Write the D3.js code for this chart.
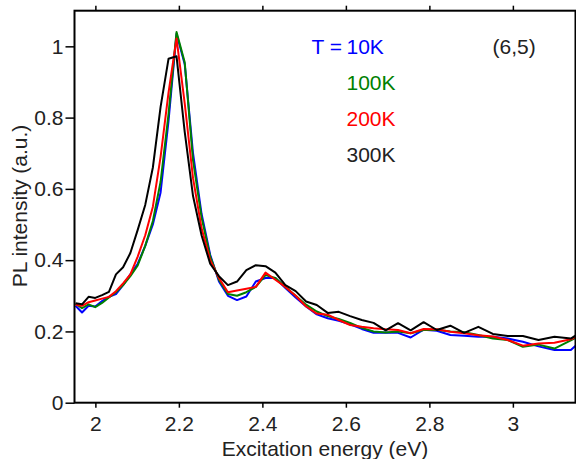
<!DOCTYPE html>
<html>
<head>
<meta charset="utf-8">
<script src="https://cdn.jsdelivr.net/npm/d3@7"></script>
<style>
  body { margin: 0; background: #fff; }
  svg { display: block; font-family: "Liberation Sans", Arial, Helvetica, sans-serif; }
</style>
</head>
<body>
<div id="chart"></div>
<script>
// excitation energies (eV) of the measured points
var energy = [1.9525, 1.9680, 1.9837, 1.9997, 2.0160, 2.0325, 2.0493, 2.0664, 2.0838, 2.1014,
  2.1194, 2.1377, 2.1562, 2.1752, 2.1944, 2.2140, 2.2339, 2.2543, 2.2750, 2.2960,
  2.3175, 2.3393, 2.3616, 2.3843, 2.4075, 2.4311, 2.4551, 2.4797, 2.5047, 2.5303,
  2.5564, 2.5830, 2.6102, 2.6380, 2.6663, 2.6953, 2.7249, 2.7552, 2.7862, 2.8178,
  2.8502, 2.8834, 2.9173, 2.9520, 2.9876, 3.0240, 3.0614, 3.0996, 3.1388, 3.1791]

// PL intensity for each temperature
var pl10K = [0.272, 0.253, 0.272, 0.270, 0.285, 0.297, 0.305, 0.330, 0.360, 0.390,
  0.440, 0.500, 0.590, 0.790, 1.035, 0.950, 0.700, 0.530, 0.415, 0.340,
  0.300, 0.288, 0.298, 0.340, 0.350, 0.350, 0.322, 0.295, 0.270, 0.248,
  0.237, 0.230, 0.220, 0.207, 0.196, 0.197, 0.196, 0.183, 0.205, 0.202,
  0.190, 0.188, 0.185, 0.185, 0.180, 0.171, 0.158, 0.148, 0.148, 0.190]

var pl100K = [0.278, 0.265, 0.276, 0.268, 0.280, 0.295, 0.310, 0.330, 0.355, 0.385,
  0.440, 0.510, 0.620, 0.810, 1.040, 0.955, 0.680, 0.520, 0.410, 0.345,
  0.305, 0.300, 0.310, 0.325, 0.358, 0.350, 0.325, 0.300, 0.275, 0.256,
  0.243, 0.235, 0.224, 0.210, 0.200, 0.197, 0.200, 0.195, 0.204, 0.205,
  0.200, 0.198, 0.190, 0.180, 0.176, 0.157, 0.163, 0.152, 0.175, 0.200]

var pl200K = [0.275, 0.272, 0.282, 0.287, 0.292, 0.297, 0.313, 0.335, 0.360, 0.410,
  0.470, 0.550, 0.690, 0.870, 1.022, 0.840, 0.630, 0.490, 0.400, 0.350,
  0.310, 0.315, 0.320, 0.325, 0.365, 0.345, 0.325, 0.300, 0.270, 0.250,
  0.247, 0.232, 0.218, 0.213, 0.209, 0.206, 0.204, 0.195, 0.207, 0.206,
  0.199, 0.195, 0.189, 0.186, 0.176, 0.160, 0.166, 0.168, 0.178, 0.200]

var pl300K = [0.279, 0.276, 0.297, 0.294, 0.302, 0.311, 0.360, 0.380, 0.420, 0.485,
  0.555, 0.660, 0.830, 0.965, 0.972, 0.760, 0.580, 0.470, 0.390, 0.355,
  0.330, 0.340, 0.372, 0.386, 0.383, 0.365, 0.330, 0.313, 0.284, 0.274,
  0.252, 0.255, 0.243, 0.232, 0.224, 0.203, 0.223, 0.203, 0.226, 0.204,
  0.216, 0.196, 0.213, 0.193, 0.187, 0.187, 0.176, 0.185, 0.180, 0.210]

var labels = ["10K", "100K", "200K", "300K"]
var colors = ["#0000ff", "#008000", "#ff0000", "#000000"]
var xTicks = [2, 2.2, 2.4, 2.6, 2.8, 3]
var yTicks = [0, 0.2, 0.4, 0.6, 0.8, 1]

var series = [pl10K, pl100K, pl200K, pl300K].map(function(vals, i) {
  return { label: labels[i], color: colors[i],
           points: vals.map(function(v, j) { return { e: energy[j], v: v } }) }
})

var W = 576, H = 459
var margin = {top: 10.7, right: 0.5, bottom: 56.3, left: 74.5},
    width = W - margin.left - margin.right,
    height = H - margin.top - margin.bottom

var svg = d3.select("#chart").append("svg")
    .attr("width", W)
    .attr("height", H)
  .append("g")
    .attr("transform", "translate(" + margin.left + "," + margin.top + ")")

var x = d3.scaleLinear().domain([1.95, 3.15]).range([0, width])
var y = d3.scaleLinear().domain([0, 1.1]).range([height, 0])

svg.append("clipPath").attr("id", "clip")
  .append("rect").attr("width", width).attr("height", height)

// lines
var line = d3.line()
    .x(function(d) { return x(d.e) })
    .y(function(d) { return y(d.v) })

svg.append("g").attr("clip-path", "url(#clip)")
  .selectAll("path")
  .data(series)
  .enter()
  .append("path")
    .attr("d", function(d) { return line(d.points) })
    .attr("fill", "none")
    .attr("stroke", function(d) { return d.color })
    .attr("stroke-width", 2)
    .attr("stroke-linejoin", "round")

// axes
function styleAxis(g) {
  g.select(".domain").remove()
  g.selectAll(".tick line").attr("stroke", "#000").attr("stroke-width", 1.5)
  g.selectAll(".tick text").attr("fill", "#222").style("font-size", "21px")
}

svg.append("g")
    .attr("transform", "translate(0," + height + ")")
    .call(d3.axisBottom(x).tickValues(xTicks).tickSize(5).tickPadding(8.5)
      .tickFormat(d3.format("~g")))
    .call(styleAxis)

svg.append("g")
    .call(d3.axisTop(x).tickValues(xTicks).tickSize(5).tickFormat(""))
    .call(styleAxis)

svg.append("g")
    .call(d3.axisLeft(y).tickValues(yTicks).tickSize(9).tickPadding(2)
      .tickFormat(d3.format("~g")))
    .call(styleAxis)

svg.append("rect")
    .attr("width", width)
    .attr("height", height)
    .attr("fill", "none")
    .attr("stroke", "#000")
    .attr("stroke-width", 2)

// axis titles
svg.append("text")
    .attr("x", width / 2)
    .attr("y", height + 53.5)
    .attr("text-anchor", "middle")
    .attr("fill", "#222")
    .style("font-size", "21px")
    .text("Excitation energy (eV)")

svg.append("text")
    .attr("transform", "translate(" + (26.5 - margin.left) + "," + (206 - margin.top) + ") rotate(-90)")
    .attr("text-anchor", "middle")
    .attr("fill", "#222")
    .style("font-size", "21px")
    .text("PL intensity (a.u.)")

// legend
var legend = svg.append("g")
    .attr("transform", "translate(" + (-margin.left) + "," + (-margin.top) + ")")

legend.append("text")
    .attr("x", 342)
    .attr("y", 54.3)
    .attr("text-anchor", "end")
    .attr("fill", colors[0])
    .style("font-size", "21px")
    .text("T =")

legend.selectAll("text.lab")
    .data(series)
    .enter()
    .append("text")
    .attr("class", "lab")
    .attr("x", 346.5)
    .attr("y", function(d, i) { return 54.3 + i * 35.8 })
    .attr("fill", function(d) { return d.color === "#000000" ? "#222" : d.color })
    .style("font-size", "21px")
    .text(function(d) { return d.label })

legend.append("text")
    .attr("x", 492.5)
    .attr("y", 54.3)
    .attr("fill", "#222")
    .style("font-size", "21px")
    .text("(6,5)")
</script>
</body>
</html>
